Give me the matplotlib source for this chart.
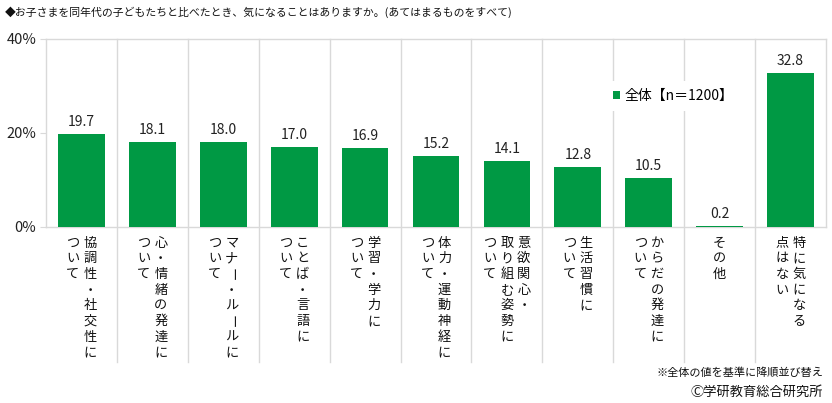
import numpy as np
import matplotlib
matplotlib.use("Agg")
import matplotlib.pyplot as plt
import matplotlib.transforms as mtransforms

plt.rcParams['font.family'] = ['Noto Sans CJK JP', 'DejaVu Sans']

title = "◆お子さまを同年代の子どもたちと比べたとき、気になることはありますか。(あてはまるものをすべて)"
# each label: columns read right to left
labels = [
    ["協調性・社交性に", "ついて"],
    ["心・情緒の発達に", "ついて"],
    ["マナー・ルールに", "ついて"],
    ["ことば・言語に", "ついて"],
    ["学習・学力に", "ついて"],
    ["体力・運動神経に", "ついて"],
    ["意欲関心・", "取り組む姿勢に", "ついて"],
    ["生活習慣に", "ついて"],
    ["からだの発達に", "ついて"],
    ["その他"],
    ["特に気になる", "点はない"],
]
values = [19.7, 18.1, 18.0, 17.0, 16.9, 15.2, 14.1, 12.8, 10.5, 0.2, 32.8]
series_name = "全体【n＝1200】"
yticks = [0, 20, 40]
note = "※全体の値を基準に降順並び替え"
credit = "Ⓒ学研教育総合研究所"

green = "#009944"
grid = "#d9d9d9"

fig = plt.figure(figsize=(8.32, 4.03), dpi=100)
ax = fig.add_axes([46/832, 1-227/403, 780/832, 188/403])

x = np.arange(len(values))
bars = ax.bar(x, values, width=0.66, color=green, label=series_name, zorder=3)

ax.set_xlim(-0.5, len(values)-0.5)
ax.set_ylim(0, 40)
ax.set_yticks(yticks)
ax.set_yticklabels([f"{t}%" for t in yticks], fontsize=10.5, color="#222222")
ax.set_xticks([])
ax.tick_params(axis='y', length=4, color=grid, pad=3)
for s in ax.spines.values():
    s.set_color(grid)
    s.set_linewidth(1)

# category separators, running down into the label area
trans = mtransforms.blended_transform_factory(ax.transData, ax.transAxes)
for b in np.arange(0.5, len(values)-0.5, 1):
    ax.plot([b, b], [-0.72, 1], transform=trans, color=grid, lw=1,
            clip_on=False, zorder=1)

# value labels
for xi, v in zip(x, values):
    ax.annotate(f"{v:.1f}", (xi, v), xytext=(0, 5), textcoords='offset pixels',
                ha='center', va='bottom', fontsize=10, color="#222222")

# vertical category labels
col_gap = 17
char_gap = 15.7
for xi, cols in zip(x, labels):
    n = len(cols)
    for i, col in enumerate(cols):
        dx = (n-1)/2*col_gap - i*col_gap
        for k, ch in enumerate(col):
            rot = -90 if ch == "ー" else 0
            ax.annotate(ch, (xi, 0), xytext=(dx, -16 - k*char_gap),
                        textcoords='offset pixels', ha='center', va='center',
                        fontsize=9.5, rotation=rot, color="#111111",
                        annotation_clip=False)

leg = ax.legend(loc='center left', bbox_to_anchor=(605/832, 1-96/403),
                bbox_transform=fig.transFigure, frameon=True, fontsize=10,
                handlelength=0.5, handleheight=0.5, handletextpad=0.3,
                borderpad=0.6, borderaxespad=0)
leg.get_frame().set_facecolor("white")
leg.get_frame().set_edgecolor("none")
leg.get_frame().set_alpha(1)

fig.text(5/832, 1-12/403, title, fontsize=7.8, va='center', ha='left', color="#111111")
fig.text(823/832, 1-373/403, note, fontsize=8, va='center', ha='right', color="#111111")
fig.text(823/832, 1-392/403, credit, fontsize=9.5, va='center', ha='right', color="#111111")

fig.savefig("out.png", dpi=100)
